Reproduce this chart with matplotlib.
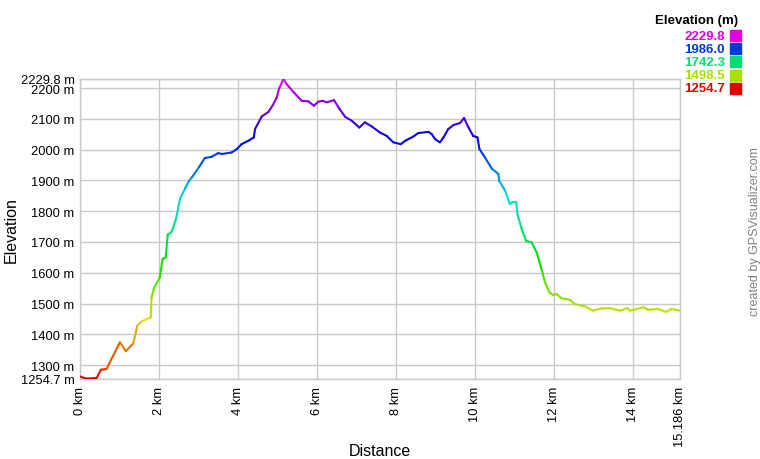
import colorsys
import numpy as np
import matplotlib as mpl
import matplotlib.pyplot as plt
from matplotlib.collections import LineCollection
from matplotlib.patches import Rectangle

mpl.rcParams.update({
    'font.family': ['Liberation Sans', 'DejaVu Sans'],
    'figure.facecolor': 'white',
    'axes.facecolor': 'white',
})

# distance (km) / elevation (m)
DIST_KM = [0.00, 0.15, 0.42, 0.53, 0.67, 1.01, 1.16, 1.35, 1.45, 1.56,
           1.79, 1.81, 1.87, 2.02, 2.09, 2.17, 2.22, 2.32, 2.43, 2.53,
           2.66, 2.76, 2.83, 3.02, 3.16, 3.33, 3.50, 3.59, 3.84, 3.97,
           4.09, 4.26, 4.40, 4.43, 4.60, 4.77, 4.88, 4.98, 5.04, 5.15,
           5.23, 5.40, 5.61, 5.78, 5.92, 6.03, 6.14, 6.24, 6.43, 6.56,
           6.71, 6.88, 7.07, 7.21, 7.38, 7.59, 7.76, 7.93, 8.12, 8.23,
           8.44, 8.56, 8.82, 8.90, 8.99, 9.11, 9.20, 9.32, 9.45, 9.62,
           9.72, 9.83, 9.95, 10.06, 10.11, 10.25, 10.42, 10.59, 10.61, 10.76,
           10.88, 10.95, 11.04, 11.07, 11.18, 11.29, 11.43, 11.56, 11.69, 11.77,
           11.88, 11.98, 12.06, 12.19, 12.40, 12.53, 12.78, 12.99, 13.20, 13.40,
           13.67, 13.85, 13.92, 14.09, 14.26, 14.38, 14.64, 14.83, 14.97, 15.186]
ELEV_M = [1263, 1256, 1258, 1285, 1287, 1374, 1345, 1371, 1428, 1442,
          1455, 1520, 1549, 1585, 1645, 1650, 1724, 1733, 1775, 1840,
          1874, 1899, 1910, 1945, 1973, 1977, 1989, 1986, 1991, 2002,
          2018, 2029, 2040, 2067, 2108, 2123, 2145, 2170, 2199, 2229.8,
          2213, 2188, 2159, 2157, 2143, 2156, 2159, 2154, 2161, 2134,
          2107, 2094, 2072, 2089, 2076, 2056, 2045, 2024, 2018, 2029,
          2043, 2054, 2058, 2051, 2034, 2024, 2040, 2067, 2080, 2087,
          2103, 2073, 2045, 2040, 2002, 1975, 1939, 1921, 1899, 1867,
          1823, 1831, 1831, 1791, 1742, 1704, 1699, 1666, 1607, 1569,
          1536, 1527, 1531, 1517, 1512, 1498, 1491, 1477, 1484, 1485,
          1477, 1485, 1477, 1482, 1488, 1480, 1482, 1473, 1482, 1477]

ELEV_MIN = 1254.7
ELEV_MAX = 2229.8
DIST_MAX = 15.186
LEGEND_VALUES = [2229.8, 1986.0, 1742.3, 1498.5, 1254.7]

GRID_C = '#c8c8c8'


def elev_color(e):
    # red -> yellow -> green -> blue -> magenta along the hue wheel
    frac = (e - ELEV_MIN) / (ELEV_MAX - ELEV_MIN)
    return colorsys.hsv_to_rgb(frac * 300 / 360, 1.0, 0.88)


fig = plt.figure(figsize=(7.6, 4.6), dpi=100)
ax = fig.add_axes([80 / 760, 80 / 460, 600 / 760, 300 / 460])

x = np.array(DIST_KM)
y = np.array(ELEV_M)
pts = np.column_stack([x, y]).reshape(-1, 1, 2)
segs = np.concatenate([pts[:-1], pts[1:]], axis=1)
cols = [elev_color((a + b) / 2) for a, b in zip(y[:-1], y[1:])]
ax.add_collection(LineCollection(segs, colors=cols, linewidths=1.5,
                                 capstyle='round', joinstyle='round', zorder=3))

ax.set_xlim(0, DIST_MAX)
ax.set_ylim(ELEV_MIN, ELEV_MAX)

xt = [0, 2, 4, 6, 8, 10, 12, 14, DIST_MAX]
ax.set_xticks(xt)
ax.set_xticklabels([f'{v:g} km' for v in xt[:-1]] + [f'{DIST_MAX} km'],
                   rotation=90, fontsize=9.3)
yt = [ELEV_MIN] + list(range(1300, 2201, 100)) + [ELEV_MAX]
ax.set_yticks(yt)
ax.set_yticklabels([f'{v:g} m' for v in yt], fontsize=9.3)
ax.tick_params(axis='y', length=0, pad=4)
ax.tick_params(axis='x', length=0, pad=5)
ax.grid(True, color=GRID_C, lw=1.0)
ax.set_axisbelow(True)
for s in ax.spines.values():
    s.set_color(GRID_C)
    s.set_linewidth(1.0)

ax.set_xlabel('Distance', fontsize=11.5)
ax.set_ylabel('Elevation', fontsize=11.5)
ax.xaxis.set_label_coords(0.5, -0.213)
ax.yaxis.set_label_coords(-0.102, 0.5)

# colour legend, top right
fig.text(738 / 760, 1 - 21 / 460, 'Elevation (m)', ha='right', va='center',
         fontsize=9.5, fontweight='bold')
for i, v in enumerate(LEGEND_VALUES):
    yc = 1 - (36.7 + i * 13.1) / 460
    c = elev_color(v)
    fig.text(725 / 760, yc, f'{v:.1f}', ha='right', va='center',
             fontsize=9.5, fontweight='bold', color=c)
    fig.patches.append(Rectangle((730 / 760, yc - 5.5 / 460), 11 / 760, 11 / 460,
                                 transform=fig.transFigure, color=c))

fig.text(755 / 760, 1 - 232 / 460, 'created by GPSVisualizer.com',
         rotation=90, ha='center', va='center', fontsize=9, color='#808080')

fig.savefig('out.png', dpi=100)
